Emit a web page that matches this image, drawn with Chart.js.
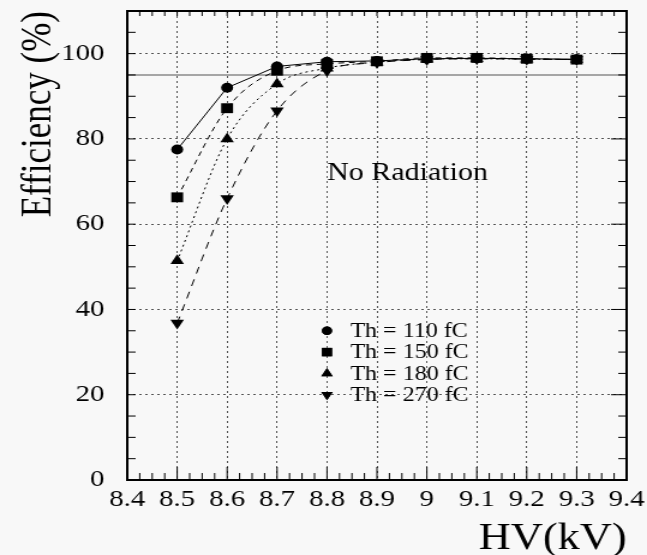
<!DOCTYPE html>
<html>
<head>
<meta charset="utf-8">
<script src="https://cdn.jsdelivr.net/npm/chart.js@4.4.1/dist/chart.umd.min.js"></script>
<style>
  html, body { margin: 0; padding: 0; background: #f8f8f8; overflow: hidden; }
  #wrap { width: 647px; height: 555px; overflow: hidden; }
  /* the original picture is stretched sideways, so is this one */
  #chart { transform: scaleX(1.2004); transform-origin: 0 0; }
</style>
</head>
<body>
<div id="wrap"><canvas id="chart" width="539" height="555" style="width:539px;height:555px"></canvas></div>
<script>
// HV (kV)
const hv = [8.5, 8.6, 8.7, 8.8, 8.9, 9.0, 9.1, 9.2, 9.3];
// efficiency (%) per threshold
const eff110 = [77.5, 92.0, 97.0, 98.1, 98.3, 98.8, 98.9, 98.8, 98.7];
const eff150 = [66.3, 87.2, 96.0, 97.6, 98.2, 99.0, 99.0, 98.8, 98.6];
const eff180 = [51.4, 80.0, 92.9, 96.6, 98.0, 98.7, 98.8, 98.7, 98.6];
const eff270 = [36.8, 66.0, 86.6, 96.0, 97.9, 98.6, 98.8, 98.7, 98.6];
const seriesNames = ['Th = 110 fC', 'Th = 150 fC', 'Th = 180 fC', 'Th = 270 fC'];

const xTicks = [8.4, 8.5, 8.6, 8.7, 8.8, 8.9, 9.0, 9.1, 9.2, 9.3, 9.4];
const yTicks = [0, 20, 40, 60, 80, 100];
const refLevel = 95;
const noteText = 'No Radiation';

const serif = "'Liberation Serif', 'Times New Roman', serif";
const toPts = arr => hv.map((x, i) => ({ x: x, y: arr[i] }));

function makeSet(label, data, style, r, dash, opts) {
    return Object.assign({
        label: label,
        data: toPts(data),
        borderColor: '#000',
        backgroundColor: '#000',
        borderWidth: 1,
        borderDash: dash,
        pointStyle: style,
        pointRadius: r,
        pointBorderWidth: 0,
        pointBackgroundColor: '#000',
        cubicInterpolationMode: 'monotone',
        order: 1
    }, opts || {});
}

const datasets = [
    makeSet(seriesNames[0], eff110, 'circle', 5, [], { cubicInterpolationMode: 'default', tension: 0 }),
    makeSet(seriesNames[1], eff150, 'rect', 7, [5, 4], { order: 0 }),
    makeSet(seriesNames[2], eff180, 'triangle', 6.5, [2, 3]),
    makeSet(seriesNames[3], eff270, 'triangle', 6.5, [7, 6], { pointRotation: 180 })
];

// marker used in the legend
function legendMark(ctx, ds, x, y) {
    const r = ds.pointRadius * 0.85;
    if (Chart.helpers && Chart.helpers.drawPoint) {
        Chart.helpers.drawPoint(ctx, { pointStyle: ds.pointStyle, rotation: ds.pointRotation || 0, radius: r, borderWidth: 0 }, x, y);
        ctx.fill();
    }
}

// reference line, frame, minor ticks, text
const decorPlugin = {
    id: 'decor',
    beforeDatasetsDraw(chart) {
        const { ctx, chartArea: a, scales: { y } } = chart;
        const py = y.getPixelForValue(refLevel);
        ctx.save();
        ctx.strokeStyle = '#a6a6a6';
        ctx.lineWidth = 2;
        ctx.beginPath();
        ctx.moveTo(a.left, py);
        ctx.lineTo(a.right, py);
        ctx.stroke();
        ctx.restore();
    },
    afterDatasetsDraw(chart) {
        const { ctx, chartArea: a, scales: { x, y } } = chart;
        ctx.save();
        ctx.strokeStyle = '#000';
        ctx.lineWidth = 1;
        const seg = (x1, y1, x2, y2) => { ctx.beginPath(); ctx.moveTo(x1, y1); ctx.lineTo(x2, y2); ctx.stroke(); };

        for (let i = 0; i < xTicks.length - 1; i++) {
            const step = (xTicks[i + 1] - xTicks[i]) / 4;
            for (let k = 0; k < 4; k++) {
                const px = x.getPixelForValue(xTicks[i] + k * step);
                seg(px, a.bottom, px, a.bottom - (k === 0 ? 13 : 7));
                seg(px, a.top, px, a.top + 5);
            }
        }
        const yStops = yTicks.concat([120]);
        for (let i = 0; i < yStops.length - 1; i++) {
            const step = (yStops[i + 1] - yStops[i]) / 4;
            for (let k = 0; k < 4; k++) {
                const v = yStops[i] + k * step;
                if (v > y.max) continue;
                const py = y.getPixelForValue(v);
                seg(a.left, py, a.left + 7, py);
                seg(a.right, py, a.right - (k === 0 ? 13 : 7), py);
            }
        }

        ctx.lineWidth = 2;
        ctx.strokeRect(a.left, a.top, a.right - a.left, a.bottom - a.top);

        // note
        ctx.fillStyle = '#000';
        ctx.textBaseline = 'middle';
        ctx.textAlign = 'left';
        ctx.font = '25px ' + serif;
        ctx.fillText(noteText, x.getPixelForValue(8.8), y.getPixelForValue(72));

        // legend
        ctx.font = '20px ' + serif;
        chart.data.datasets.forEach((ds, i) => {
            const mx = x.getPixelForValue(8.8);
            const my = y.getPixelForValue(35 - 5 * i);
            legendMark(ctx, ds, mx, my);
            ctx.fillText(ds.label, mx + 19.5, my + 1);
        });
        ctx.restore();
    }
};

new Chart(document.getElementById('chart'), {
    type: 'line',
    data: { datasets: datasets },
    options: {
        responsive: false,
        animation: false,
        layout: { padding: { top: 11, right: 17, left: 0, bottom: 0 } },
        plugins: { legend: { display: false }, tooltip: { enabled: false } },
        scales: {
            x: {
                type: 'linear',
                min: 8.4,
                max: 9.4,
                afterBuildTicks: s => { s.ticks = xTicks.map(v => ({ value: v })); },
                afterFit: s => { s.height = 75; s.paddingLeft = 0; s.paddingRight = 0; },
                ticks: {
                    color: '#000',
                    font: { family: serif, size: 24 },
                    padding: 5,
                    maxRotation: 0,
                    autoSkip: false,
                    callback: v => String(+v.toFixed(1))
                },
                grid: { color: '#555', lineWidth: 1, drawTicks: false },
                border: { display: false, dash: [2, 3] },
                title: {
                    display: true,
                    text: 'HV(kV)',
                    align: 'end',
                    color: '#000',
                    font: { family: serif, size: 37, lineHeight: 0.8 },
                    padding: { top: 0, bottom: 1 }
                }
            },
            y: {
                min: 0,
                max: 110,
                afterBuildTicks: s => { s.ticks = yTicks.map(v => ({ value: v })); },
                afterFit: s => { s.width = 106; s.paddingTop = 0; s.paddingBottom = 0; },
                ticks: {
                    color: '#000',
                    font: { family: serif, size: 24 },
                    padding: 19
                },
                grid: { color: '#555', lineWidth: 1, drawTicks: false },
                border: { display: false, dash: [2, 3] },
                title: {
                    display: true,
                    text: 'Efficiency (%)',
                    align: 'end',
                    color: '#000',
                    font: { family: serif, size: 35 },
                    padding: { top: 12, bottom: 0 }
                }
            }
        }
    },
    plugins: [decorPlugin]
});
</script>
</body>
</html>
